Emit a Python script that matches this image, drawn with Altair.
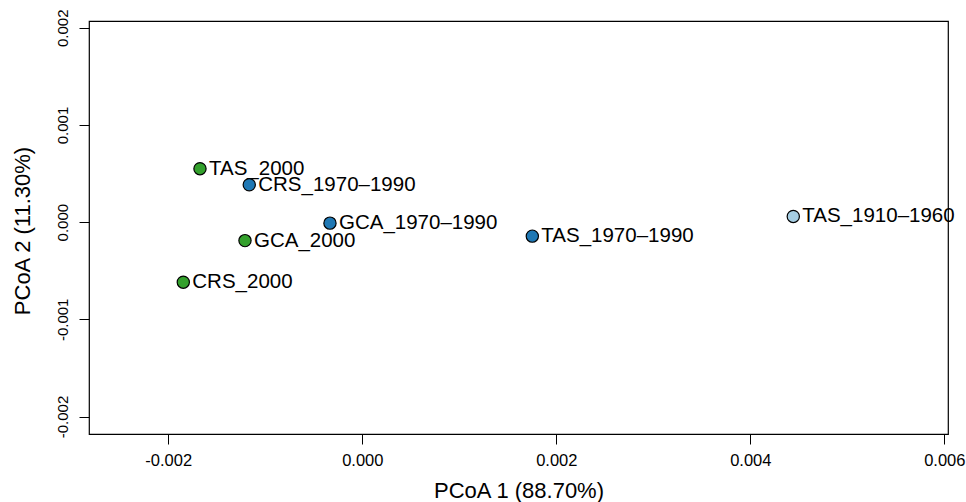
import altair as alt
import pandas as pd

labels = ["TAS_2000", "CRS_1970–1990", "GCA_1970–1990", "GCA_2000",
          "CRS_2000", "TAS_1970–1990", "TAS_1910–1960"]
pcoa1 = [-0.001673, -0.001165, -0.000333, -0.001209, -0.001845, 0.001753, 0.004443]
pcoa2 = [0.000550, 0.000385, -0.000010, -0.000190, -0.000618, -0.000144, 0.000059]
groups = ["2000", "1970–1990", "1970–1990", "2000", "2000", "1970–1990", "1910–1960"]

group_domain = ["1910–1960", "1970–1990", "2000"]
group_colors = ["#a6cee3", "#1f78b4", "#33a02c"]

x_ticks = [-0.002, 0.0, 0.002, 0.004, 0.006]
y_ticks = [-0.002, -0.001, 0.0, 0.001, 0.002]

df = pd.DataFrame({"label": labels, "x": pcoa1, "y": pcoa2, "group": groups})

W, H = 859, 413
FONT = "Liberation Sans, Arial, Helvetica, sans-serif"
lab_expr = "datum.value < -1e-9 ? '-' + format(-datum.value, '.3f') : format(abs(datum.value), '.3f')"

x_enc = alt.X("x:Q",
              scale=alt.Scale(domain=[-0.002817, 0.006038], nice=False, zero=False),
              axis=alt.Axis(values=x_ticks, labelExpr=lab_expr, grid=False, domain=False,
                            tickSize=10, tickColor="#000000", tickWidth=1,
                            labelFontSize=16.5, labelFont=FONT, labelColor="#000000",
                            labelPadding=8,
                            title="PCoA 1 (88.70%)", titleFont=FONT, titleFontSize=22,
                            titleFontWeight="normal", titleColor="#000000",
                            titleX=W / 2, titleY=56, titleBaseline="middle",
                            titleAlign="center"))
y_enc = alt.Y("y:Q",
              scale=alt.Scale(domain=[-0.00218, 0.00207], nice=False, zero=False),
              axis=alt.Axis(values=y_ticks, labelExpr=lab_expr, grid=False, domain=False,
                            tickSize=10, tickColor="#000000", tickWidth=1,
                            labelFontSize=15, labelFont=FONT, labelColor="#000000",
                            labelAngle=-90, labelAlign="center", labelBaseline="alphabetic",
                            labelPadding=12,
                            title="PCoA 2 (11.30%)", titleFont=FONT, titleFontSize=22,
                            titleFontWeight="normal", titleColor="#000000",
                            titleAngle=-90, titleX=-67, titleY=H / 2 + 3,
                            titleBaseline="middle", titleAlign="center"))

base = alt.Chart(df)

text = base.mark_text(align="left", baseline="middle", dx=9, fontSize=20.5,
                      font=FONT, color="#000000").encode(x=x_enc, y=y_enc, text="label:N")

points = base.mark_point(shape="circle", filled=True, size=150, stroke="#000000",
                         strokeWidth=1.2, opacity=1).encode(
    x=x_enc, y=y_enc,
    fill=alt.Fill("group:N", scale=alt.Scale(domain=group_domain, range=group_colors),
                  legend=None))

chart = alt.layer(text, points).properties(
    width=W, height=H,
    padding={"left": 89, "top": 21, "right": 18, "bottom": 68},
    autosize=alt.AutoSizeParams(type="none"),
    background="#ffffff",
).configure_view(stroke="#000000", strokeWidth=1.2)

chart.save("out.html", embed_options={"renderer": "svg", "actions": False})
